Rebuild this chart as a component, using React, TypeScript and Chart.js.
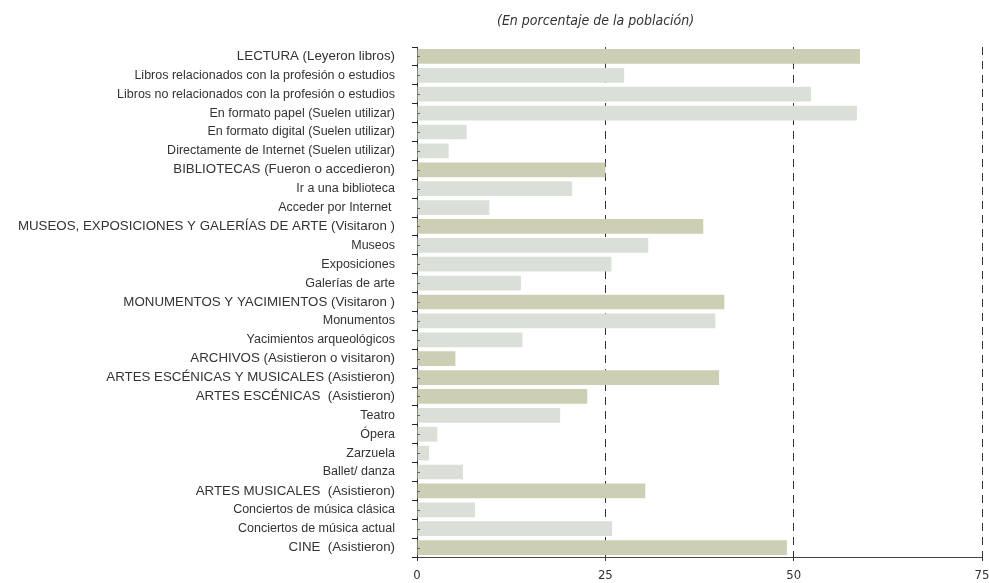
import React, { useEffect, useRef } from "react";
import { Chart, registerables } from "chart.js";

Chart.register(...registerables);

const categories: string[] = [
  "LECTURA (Leyeron libros)",
  "Libros relacionados con la profesión o estudios",
  "Libros no relacionados con la profesión o estudios",
  "En formato papel (Suelen utilizar)",
  "En formato digital (Suelen utilizar)",
  "Directamente de Internet (Suelen utilizar)",
  "BIBLIOTECAS (Fueron o accedieron)",
  "Ir a una biblioteca",
  "Acceder por Internet ",
  "MUSEOS, EXPOSICIONES Y GALERÍAS DE ARTE (Visitaron )",
  "Museos",
  "Exposiciones",
  "Galerías de arte",
  "MONUMENTOS Y YACIMIENTOS (Visitaron )",
  "Monumentos",
  "Yacimientos arqueológicos",
  "ARCHIVOS (Asistieron o visitaron)",
  "ARTES ESCÉNICAS Y MUSICALES (Asistieron)",
  "ARTES ESCÉNICAS  (Asistieron)",
  "Teatro",
  "Ópera",
  "Zarzuela",
  "Ballet/ danza",
  "ARTES MUSICALES  (Asistieron)",
  "Conciertos de música clásica",
  "Conciertos de música actual",
  "CINE  (Asistieron)",
];

const values: number[] = [
  58.8, 27.5, 52.3, 58.4, 6.6, 4.2, 25.0, 20.6, 9.6, 38.0, 30.7, 25.8, 13.8,
  40.8, 39.6, 14.0, 5.1, 40.1, 22.6, 19.0, 2.7, 1.6, 6.1, 30.3, 7.7, 25.9, 49.1,
];

const isHeading: boolean[] = [
  true, false, false, false, false, false, true, false, false, true, false,
  false, false, true, false, false, true, true, true, false, false, false,
  false, true, false, false, true,
];

const xTicks: number[] = [0, 25, 50, 75];
const subtitle = "(En porcentaje de la población)";

const HEAD_COLOR = "#CDCFB4";
const SUB_COLOR = "#DAE0D8";
const NARROW = "'Liberation Sans Narrow', 'DejaVu Sans Condensed', 'Liberation Sans', sans-serif";
const LABEL_FONT = "'Liberation Sans', Arial, sans-serif";

export default function App() {
  const ref = useRef<HTMLCanvasElement | null>(null);

  useEffect(() => {
    document.body.style.margin = "0";
    const canvas = ref.current;
    if (!canvas) return;

    const innerMarks = {
      id: "innerMarks",
      afterDatasetsDraw(chart: any) {
        const y = chart.scales.y;
        const left = chart.chartArea.left;
        const ctx = chart.ctx;
        ctx.save();
        ctx.strokeStyle = "#666";
        ctx.lineWidth = 1;
        categories.forEach((_, i) => {
          const py = Math.round(y.getPixelForValue(i)) + 0.5;
          ctx.beginPath();
          ctx.moveTo(left, py);
          ctx.lineTo(left + 3, py);
          ctx.stroke();
        });
        ctx.restore();
      },
    };

    const chart = new Chart(canvas, {
      type: "bar",
      data: {
        labels: categories,
        datasets: [
          {
            data: values,
            backgroundColor: isHeading.map((h) => (h ? HEAD_COLOR : SUB_COLOR)),
            borderWidth: 0,
            categoryPercentage: 1,
            barPercentage: 0.78,
          },
        ],
      },
      options: {
        indexAxis: "y",
        animation: false,
        responsive: false,
        devicePixelRatio: 1,
        layout: { padding: { top: 47, right: 7, left: 0, bottom: 0 } },
        plugins: {
          legend: { display: false },
          tooltip: { enabled: false },
          title: { display: false },
        },
        scales: {
          x: {
            min: 0,
            max: 75,
            afterBuildTicks: (scale: any) => {
              scale.ticks = xTicks.map((v) => ({ value: v }));
            },
            afterFit: (scale: any) => {
              scale.height = 26;
              scale.paddingLeft = 0;
              scale.paddingRight = 0;
            },
            grid: {
              color: (ctx: any) => (ctx.tick && ctx.tick.value === 0 ? "rgba(0,0,0,0)" : "#333"),
              tickColor: "#333",
              tickLength: 4,
              lineWidth: 1,
            },
            border: { display: true, color: "#444", width: 1, dash: [8, 6] },
            ticks: {
              color: "#333",
              font: { family: NARROW, size: 13 },
              padding: 7,
              maxRotation: 0,
            },
          },
          y: {
            afterFit: (scale: any) => {
              scale.width = 417;
            },
            grid: {
              drawOnChartArea: false,
              drawTicks: true,
              tickLength: 5,
              color: "#222",
              tickColor: "#222",
              offset: true,
            },
            border: { display: true, color: "#333", width: 1 },
            ticks: {
              color: "#333",
              font: (ctx: any) => ({
                family: LABEL_FONT,
                size: isHeading[ctx.index] ? 13.3 : 12.5,
              }),
              padding: 17,
              autoSkip: false,
            },
          },
        },
      },
      plugins: [innerMarks],
    });

    return () => chart.destroy();
  }, []);

  return (
    <div style={{ position: "relative", width: 989, height: 583, background: "#fff" }}>
      <div
        style={{
          position: "absolute",
          left: 497,
          top: 11,
          fontFamily: NARROW,
          fontStyle: "italic",
          fontSize: 14,
          color: "#333",
          whiteSpace: "nowrap",
          lineHeight: "18px",
        }}
      >
        {subtitle}
      </div>
      <canvas ref={ref} width={989} height={583} style={{ display: "block" }} />
    </div>
  );
}
